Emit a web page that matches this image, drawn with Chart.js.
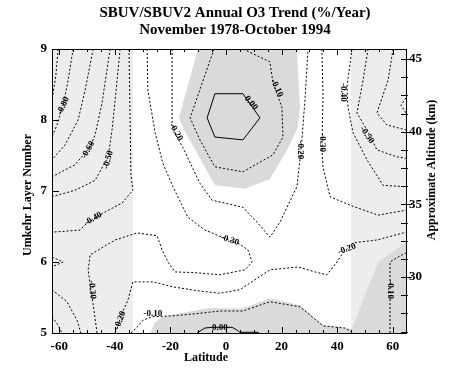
<!DOCTYPE html>
<html>
<head>
<meta charset="utf-8">
<script src="https://cdn.jsdelivr.net/npm/chart.js@4.4.1/dist/chart.umd.min.js"></script>
<style>
  html, body { margin: 0; padding: 0; background: #fff; }
  canvas { display: block; }
</style>
</head>
<body>
<canvas id="ozoneChart" width="456" height="370"></canvas>
<script>
// Axis ranges and tick values
const LAT_MIN = -62.6;
const LAT_MAX = 64.75;
const LAYER_MIN = 5;
const LAYER_MAX = 9;
const ALT_MIN = 26.15;
const ALT_MAX = 45.69;

const latTicks = [-60, -40, -20, 0, 20, 40, 60];
const latMinorTicks = [-60, -55, -50, -45, -40, -35, -30, -25, -20, -15, -10, -5, 0, 5, 10, 15, 20, 25, 30, 35, 40, 45, 50, 55, 60];
const layerTicks = [5, 6, 7, 8, 9];
const altTicks = [26.25, 27.5, 28.75, 30, 31.25, 32.5, 33.75, 35, 36.25, 37.5, 38.75, 40, 41.25, 42.5, 43.75, 45];

// Shaded regions [latitude, layer]
const stippleLeft = [[-62.6, 5], [-33.5, 5], [-33.5, 9], [-62.6, 9]];
const stippleRight = [[45.0, 5], [64.75, 5], [64.75, 9], [45.0, 9]];
const grayTop = [[-10.1, 9], [-16.9, 8.03], [-15.5, 7.89], [-4.0, 7.08], [6.8, 7.03], [15.8, 7.17], [22.0, 7.58], [25.9, 7.90], [26.6, 8.18], [25.5, 9]];
const grayBottom = [[-27.3, 5], [-25.5, 5.15], [-23.0, 5.23], [-6.8, 5.35], [6.1, 5.35], [15.8, 5.49], [26.6, 5.39], [34.9, 5.11], [45.3, 5.06], [54.7, 6.0], [64.75, 6.27], [64.75, 5]];

// Contour lines (%/year), [latitude, layer]
const c090 = [[-60.4, 9], [-61.2, 8.63], [-62.6, 8.28]];
const c080 = [[-55.0, 9], [-56.8, 8.56], [-58.6, 8.21], [-60.8, 7.93], [-62.6, 7.76]];
const c070 = [[-47.8, 9], [-50.7, 8.42], [-53.2, 8.00], [-57.9, 7.65], [-62.6, 7.44]];
const c060 = [[-41.7, 9], [-44.6, 8.24], [-47.1, 7.79], [-48.9, 7.62], [-54.3, 7.37], [-62.6, 7.20]];
const c050 = [[-38.1, 9], [-39.9, 8.28], [-41.0, 7.86], [-42.4, 7.48], [-47.1, 7.15], [-54.3, 7.01], [-62.6, 6.92]];
const c040 = [[-34.9, 9], [-34.5, 8.00], [-34.2, 7.23], [-33.5, 7.01], [-37.4, 6.83], [-44.2, 6.69], [-50.0, 6.55], [-52.5, 6.45], [-62.6, 6.42]];
const c040Wedge = [[-62.6, 6.07], [-58.6, 6.0], [-62.6, 5.93]];
const c040Low = [[-62.6, 5.61], [-57.2, 5.44], [-53.6, 5.18], [-52.2, 5.0]];
const c050Low = [[-62.6, 5.23], [-60.4, 5.11], [-59.0, 5.0]];
const c030 = [[-28.4, 9], [-28.1, 8.42], [-25.5, 7.82], [-22.7, 7.39], [-19.1, 7.06], [-13.7, 6.63], [-7.6, 6.45], [-1.4, 6.35], [5.0, 6.25], [7.9, 6.17], [9.4, 6.0], [6.8, 5.89], [-2.2, 5.82], [-11.2, 5.85], [-18.3, 5.86], [-20.9, 6.0], [-23.0, 6.17], [-24.8, 6.37], [-32.0, 6.41], [-39.9, 6.31], [-48.9, 6.10], [-49.6, 5.89], [-48.6, 5.61], [-47.5, 5.32], [-46.4, 5.0]];
const c030Right = [[34.5, 9], [34.9, 8.35], [34.5, 7.58], [34.9, 7.34], [37.4, 6.92], [44.6, 6.80], [54.7, 6.66], [64.75, 6.73]];
const c020Top = [[-19.4, 9], [-19.4, 7.96], [-18.0, 7.79], [-15.5, 7.61], [-12.2, 7.34], [-9.4, 7.11], [-5.0, 6.87], [0.7, 6.82], [6.1, 6.77], [11.2, 6.56], [15.8, 6.35], [19.4, 6.56], [22.3, 6.80], [25.5, 7.06], [26.6, 7.44], [27.3, 7.72], [28.4, 8.28], [29.5, 9]];
const c020Low = [[-39.9, 5], [-38.8, 5.11], [-37.4, 5.28], [-35.3, 5.46], [-33.5, 5.72], [-26.3, 5.72], [-19.1, 5.65], [-9.4, 5.59], [-2.2, 5.56], [5.0, 5.61], [10.4, 5.75], [15.8, 5.89], [25.9, 5.93], [32.0, 5.86], [36.3, 5.82], [39.9, 6.0], [42.1, 6.13], [45.7, 6.27], [54.3, 6.31], [64.75, 6.42]];
const c010Top = [[-4.3, 9], [-7.6, 8.63], [-12.9, 8.03], [-9.4, 7.72], [-4.0, 7.34], [6.1, 7.27], [16.9, 7.51], [20.5, 7.76], [20.1, 8.18], [16.9, 8.52], [15.8, 8.82], [6.1, 9]];
const c010Low = [[-34.2, 5], [-32.0, 5.08], [-29.9, 5.18], [-26.6, 5.23], [-20.1, 5.24], [-11.2, 5.27], [-2.2, 5.31], [6.1, 5.31], [15.8, 5.44], [26.6, 5.37], [34.9, 5.10], [42.8, 5.07], [45.7, 5.0]];
const c010Right = [[59.0, 5], [59.0, 6.0], [61.9, 6.07], [64.75, 6.13]];
const c040Right = [[45.3, 9], [43.5, 8.46], [43.9, 8.18], [45.7, 7.82], [50.7, 7.44], [56.5, 7.08], [64.75, 7.06]];
const c050Right = [[51.1, 9], [49.3, 8.56], [47.1, 8.10], [50.7, 7.86], [54.3, 7.58], [61.5, 7.48], [64.75, 7.46]];
const c060Right = [[60.1, 9], [58.3, 8.56], [54.3, 8.10], [57.9, 7.93], [64.75, 7.86]];
const c070Right = [[64.75, 8.31], [62.9, 8.21], [64.75, 8.10]];
const c000Hex = [[-4.0, 8.37], [6.1, 8.37], [12.2, 8.03], [6.1, 7.72], [-4.0, 7.76], [-6.8, 8.03], [-4.0, 8.37]];
const c000Low = [[-10.4, 5], [-7.6, 5.07], [-5.0, 5.08], [2.2, 5.08], [4.0, 5.04], [5.0, 5.01], [11.5, 5.01], [11.9, 5.0]];

const dashedContours = [c090, c080, c070, c060, c050, c040, c040Wedge, c040Low, c050Low, c030, c030Right,
  c020Top, c020Low, c010Top, c010Low, c010Right, c040Right, c050Right, c060Right, c070Right];
const solidContours = [c000Hex, c000Low];

// Contour labels: text, latitude, layer, angle (deg)
const labelText = ['-0.80', '-0.60', '-0.50', '-0.40', '-0.30', '-0.20', '-0.10', '0.00', '-0.30', '-0.20', '0.00', '-0.10', '-0.20', '-0.30', '-0.40', '-0.50', '-0.20', '-0.10'];
const labelLat = [-58.6, -49.6, -42.4, -47.8, -48.2, -38.1, -26.3, -2.2, 1.4, -18.0, 9.0, 18.3, 26.6, 34.5, 42.1, 50.7, 43.5, 59.0];
const labelLayer = [8.20, 7.58, 7.44, 6.61, 5.61, 5.18, 5.27, 5.08, 6.31, 7.83, 8.24, 8.45, 7.58, 7.68, 8.39, 7.79, 6.18, 5.61];
const labelAngle = [-65, -60, -75, -30, 85, -70, 0, 0, 18, 60, 50, 65, 90, 90, 90, 55, -20, 90];

const SERIF = "'Liberation Serif', 'Times New Roman', serif";
const tickFont = { family: SERIF, size: 13, weight: 'bold' };

function makeStipple() {
  const c = document.createElement('canvas');
  c.width = 4; c.height = 4;
  const g = c.getContext('2d');
  g.fillStyle = '#ebebeb';
  g.fillRect(0, 0, 4, 4);
  g.fillStyle = '#f9f9f9';
  g.fillRect(0, 0, 1, 1);
  g.fillRect(2, 2, 1, 1);
  return g.createPattern(c, 'repeat');
}

const toPoints = arr => arr.map(p => ({ x: p[0], y: p[1] }));

function fillSet(points, color, order) {
  return { data: toPoints(points), borderWidth: 0, borderColor: 'rgba(0,0,0,0)', backgroundColor: color,
    fill: 'shape', pointRadius: 0, tension: 0, order: order };
}
function contourSet(points, solid) {
  return { data: toPoints(points), borderColor: '#000', borderWidth: 1, borderDash: solid ? [] : [2, 2],
    fill: false, pointRadius: 0, tension: 0, order: 0 };
}

const stipple = makeStipple();
const datasets = [
  fillSet(stippleLeft, stipple, 10),
  fillSet(stippleRight, stipple, 10),
  fillSet(grayTop, '#dadada', 5),
  fillSet(grayBottom, '#dadada', 5),
  ...dashedContours.map(c => contourSet(c, false)),
  ...solidContours.map(c => contourSet(c, true))
];

const decorPlugin = {
  id: 'decor',
  afterDatasetsDraw(chart) {
    const { ctx, chartArea: a, scales } = chart;
    const x = scales.x, y = scales.y, y2 = scales.y2;
    ctx.save();
    // contour labels
    ctx.fillStyle = '#000';
    ctx.font = 'bold 9px ' + SERIF;
    ctx.textAlign = 'center';
    ctx.textBaseline = 'middle';
    labelText.forEach((t, i) => {
      ctx.save();
      ctx.translate(x.getPixelForValue(labelLat[i]), y.getPixelForValue(labelLayer[i]));
      ctx.rotate(labelAngle[i] * Math.PI / 180);
      ctx.fillText(t, 0, 0);
      ctx.restore();
    });
    // frame
    ctx.strokeStyle = '#000';
    ctx.lineWidth = 1;
    ctx.strokeRect(a.left + 0.5, a.top + 0.5, a.right - a.left, a.bottom - a.top);
    ctx.beginPath();
    latMinorTicks.forEach(v => {
      const px = Math.round(x.getPixelForValue(v)) + 0.5;
      const len = latTicks.includes(v) ? 6 : 3;
      ctx.moveTo(px, a.bottom); ctx.lineTo(px, a.bottom - len);
      ctx.moveTo(px, a.top); ctx.lineTo(px, a.top + len);
    });
    layerTicks.forEach(v => {
      const py = Math.round(y.getPixelForValue(v)) + 0.5;
      ctx.moveTo(a.left, py); ctx.lineTo(a.left + 7, py);
    });
    altTicks.forEach(v => {
      const py = Math.round(y2.getPixelForValue(v)) + 0.5;
      const major = v % 5 === 0;
      ctx.moveTo(a.right - 5, py); ctx.lineTo(a.right + (major ? 6 : 2), py);
    });
    ctx.stroke();
    ctx.restore();
  },
  afterDraw(chart) {
    const ctx = chart.ctx;
    ctx.save();
    ctx.fillStyle = '#000';
    ctx.textAlign = 'center';
    ctx.textBaseline = 'middle';
    ctx.font = 'bold 15px ' + SERIF;
    ctx.fillText('SBUV/SBUV2 Annual O3 Trend (%/Year)', 235, 13);
    ctx.fillText('November 1978-October 1994', 235, 30);
    ctx.font = 'bold 12px ' + SERIF;
    ctx.fillText('Latitude', 206, 358);
    ctx.save();
    ctx.translate(28, 195);
    ctx.rotate(-Math.PI / 2);
    ctx.fillText('Umkehr Layer Number', 0, 0);
    ctx.restore();
    ctx.save();
    ctx.translate(432, 170);
    ctx.rotate(-Math.PI / 2);
    ctx.fillText('Approximate Altitude (km)', 0, 0);
    ctx.restore();
    ctx.restore();
  }
};

new Chart(document.getElementById('ozoneChart'), {
  type: 'line',
  data: { datasets: datasets },
  options: {
    responsive: false,
    animation: false,
    events: [],
    layout: { padding: { top: 49, left: 0, right: 0, bottom: 0 } },
    plugins: { legend: { display: false }, tooltip: { enabled: false } },
    scales: {
      x: {
        type: 'linear', position: 'bottom', min: LAT_MIN, max: LAT_MAX,
        afterBuildTicks: s => { s.ticks = latTicks.map(v => ({ value: v })); },
        afterFit: s => { s.height = 37; },
        grid: { display: false, drawTicks: false, tickLength: 0 },
        border: { display: false },
        ticks: { font: tickFont, color: '#000', padding: 6, maxRotation: 0, autoSkip: false }
      },
      y: {
        type: 'linear', position: 'left', min: LAYER_MIN, max: LAYER_MAX,
        afterBuildTicks: s => { s.ticks = layerTicks.map(v => ({ value: v })); },
        afterFit: s => { s.width = 52; },
        grid: { display: false, drawTicks: false, tickLength: 0 },
        border: { display: false },
        ticks: { font: tickFont, color: '#000', padding: 5 }
      },
      y2: {
        type: 'linear', position: 'right', min: ALT_MIN, max: ALT_MAX,
        afterBuildTicks: s => { s.ticks = altTicks.map(v => ({ value: v })); },
        afterFit: s => { s.width = 50; },
        grid: { display: false, drawTicks: false, tickLength: 0 },
        border: { display: false },
        ticks: { font: tickFont, color: '#000', padding: 3, autoSkip: false,
          callback: v => (v % 5 === 0 ? String(v) : '') }
      }
    }
  },
  plugins: [decorPlugin]
});
</script>
</body>
</html>
